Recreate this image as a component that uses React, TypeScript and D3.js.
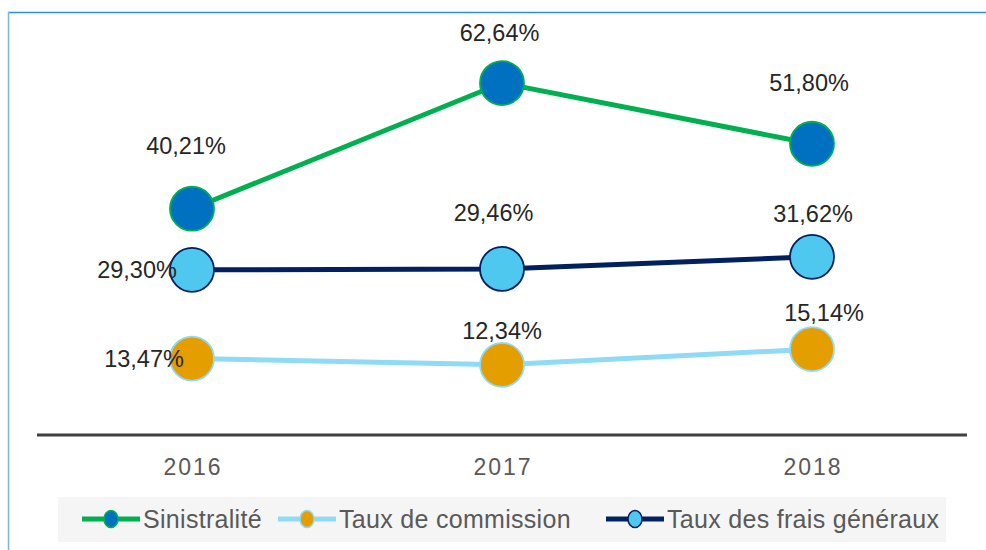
import React from "react";
import * as d3 from "d3";

const years = ["2016", "2017", "2018"];
const sinistralite = [40.21, 62.64, 51.8];
const commission = [13.47, 12.34, 15.14];
const fraisGeneraux = [29.3, 29.46, 31.62];
const seriesNames = ["Sinistralité", "Taux de commission", "Taux des frais généraux"];

// label offsets (layout)
const labelOffsets = [
  [[-6, -63], [-2.5, -50], [-3, -61.5]],
  [[-48, 0], [0, -34], [12, -37]],
  [[-55, 0], [-8.5, -56.5], [1, -43]],
];

const W = 986;
const H = 550;
const FONT = "'Liberation Sans', Arial, sans-serif";

const styles = [
  { line: "#00B050", fill: "#0070C0", stroke: "#00B050" },
  { line: "#8FDAF5", fill: "#E59E00", stroke: "#8FDAF5" },
  { line: "#002060", fill: "#4FC8F0", stroke: "#002060" },
];

export default function App() {
  const x = d3.scaleBand<string>().domain(years).range([37, 967]);
  const y = d3.scaleLinear().domain([0, 70]).range([434, 41.8]);
  const cx = (yr: string) => (x(yr) as number) + x.bandwidth() / 2;
  const data = [sinistralite, commission, fraisGeneraux];
  const line = d3
    .line<number>()
    .x((_, i) => cx(years[i]))
    .y((v) => y(v));
  const fmt = (v: number) => v.toFixed(2).replace(".", ",") + "%";

  const legendX = [82, 278, 606];
  const drawOrder = [1, 2, 0];

  return (
    <div style={{ position: "absolute", left: 0, top: 0 }}>
      <svg width={W} height={H} style={{ display: "block" }} fontFamily={FONT}>
        <rect x={0} y={0} width={W} height={H} fill="#fff" />
        <line x1={8} y1={12.5} x2={W} y2={12.5} stroke="#2E8FD8" strokeWidth={1.5} />
        <line x1={8.5} y1={12} x2={8.5} y2={H} stroke="#7DB6E4" strokeWidth={1.5} />
        {/* axis */}
        <line x1={37} x2={967} y1={435} y2={435} stroke="#404040" strokeWidth={3} />
        {years.map((yr) => (
          <text
            key={yr}
            x={cx(yr) + 1}
            y={467}
            dy="0.36em"
            textAnchor="middle"
            fontSize={23}
            fill="#595959"
            letterSpacing={2}
          >
            {yr}
          </text>
        ))}
        {drawOrder.map((si) => (
          <path
            key={"l" + si}
            d={line(data[si]) as string}
            fill="none"
            stroke={styles[si].line}
            strokeWidth={5}
          />
        ))}
        {drawOrder.map((si) =>
          data[si].map((v, i) => (
            <circle
              key={"c" + si + i}
              cx={cx(years[i])}
              cy={y(v)}
              r={22}
              fill={styles[si].fill}
              stroke={styles[si].stroke}
              strokeWidth={1.8}
            />
          ))
        )}
        {data.map((vals, si) =>
          vals.map((v, i) => (
            <text
              key={"t" + si + i}
              x={cx(years[i]) + labelOffsets[si][i][0]}
              y={y(v) + labelOffsets[si][i][1]}
              dy="0.36em"
              textAnchor="middle"
              fontSize={23.5}
              fill="#262626"
            >
              {fmt(v)}
            </text>
          ))
        )}
        {/* legend */}
        <rect x={58} y={497} width={888} height={45} fill="#F5F5F5" />
        {seriesNames.map((name, si) => (
          <g key={name} transform={`translate(${legendX[si]},519)`}>
            <line x1={0} x2={58} y1={0} y2={0} stroke={styles[si].line} strokeWidth={5} />
            <ellipse cx={29} cy={0} rx={7} ry={8.5} fill={styles[si].fill} stroke={styles[si].stroke} strokeWidth={1.5} />
            <text x={61} y={0} dy="0.36em" fontSize={25} letterSpacing={0.3} fill="#595959">
              {name}
            </text>
          </g>
        ))}
      </svg>
    </div>
  );
}
